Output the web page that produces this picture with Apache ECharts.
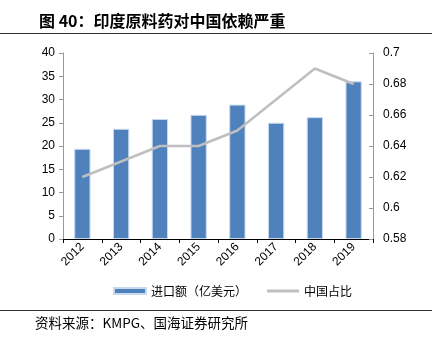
<!DOCTYPE html>
<html><head><meta charset="utf-8">
<script src="https://cdn.jsdelivr.net/npm/echarts@6/dist/echarts.min.js"></script>
<style>html,body{margin:0;padding:0;background:#fff}#c{width:437px;height:345px}</style>
</head><body><div id="c"></div>
<script>
const years = ['2012','2013','2014','2015','2016','2017','2018','2019'];
const importValue = [19.4, 23.7, 25.8, 26.7, 28.9, 25.0, 26.2, 33.9];
const chinaShare = [0.62, 0.63, 0.64, 0.64, 0.65, 0.67, 0.69, 0.68];
const leftTicks = [0, 40, 5];
const rightTicks = [0.58, 0.7, 0.02];

const chart = echarts.init(document.getElementById('c'), null, {renderer:'canvas'});
const axisFont = {fontFamily:'Arial, "Liberation Sans", sans-serif', fontSize:12, color:'#000'};
const cjk = '"Noto Sans CJK SC", sans-serif';
chart.setOption({
  animation:false,
  textStyle:{fontFamily:cjk},
  title:{
    text:'图 40：印度原料药对中国依赖严重',
    left:34, top:8,
    textStyle:{fontSize:16, fontWeight:'bold', color:'#000', fontFamily:cjk}
  },
  graphic:[
    {type:'line', shape:{x1:0,y1:33.5,x2:432,y2:33.5}, style:{stroke:'#333', lineWidth:1}},
    {type:'line', shape:{x1:0,y1:310.5,x2:432,y2:310.5}, style:{stroke:'#333', lineWidth:1}},
    {type:'text', left:35, top:316, style:{text:'资料来源：KMPG、国海证券研究所', fontSize:13.5, fill:'#000', fontFamily:cjk}}
  ],
  legend:{
    top:280, left:108,
    itemWidth:32, itemHeight:6, itemGap:20,
    textStyle:{fontSize:12, color:'#000', fontFamily:cjk},
    data:[{name:'进口额（亿美元）', icon:'rect'}, {name:'中国占比', icon:'path://M0,0 L32,0 L32,3 L0,3 Z'}]
  },
  grid:{left:63, right:64, top:53, bottom:106},
  xAxis:{
    type:'category', data:years, boundaryGap:true,
    axisLine:{lineStyle:{color:'#000'}},
    axisTick:{show:true, length:4, lineStyle:{color:'#000'}},
    axisLabel:Object.assign({rotate:45, margin:6}, axisFont)
  },
  yAxis:[
    {type:'value', min:leftTicks[0], max:leftTicks[1], interval:leftTicks[2],
     axisLine:{show:true, lineStyle:{color:'#999'}},
     axisTick:{show:true, length:4, lineStyle:{color:'#999'}},
     splitLine:{show:false},
     axisLabel:Object.assign({margin:8}, axisFont)},
    {type:'value', min:rightTicks[0], max:rightTicks[1], interval:rightTicks[2], position:'right',
     axisLine:{show:true, lineStyle:{color:'#999'}},
     axisTick:{show:true, inside:true, length:4, lineStyle:{color:'#999'}},
     splitLine:{show:false},
     axisLabel:Object.assign({margin:10, formatter:v=>+v.toFixed(2)+''}, axisFont)}
  ],
  series:[
    {name:'进口额（亿美元）', type:'bar', data:importValue, barWidth:'42%',
     itemStyle:{color:'#4F81BD', borderColor:'#C6D9F1', borderWidth:1}},
    {name:'中国占比', type:'line', yAxisIndex:1, data:chinaShare, symbol:'none',
     lineStyle:{color:'#BFBFBF', width:2.5}, itemStyle:{color:'#BFBFBF'}}
  ]
});
</script></body></html>
